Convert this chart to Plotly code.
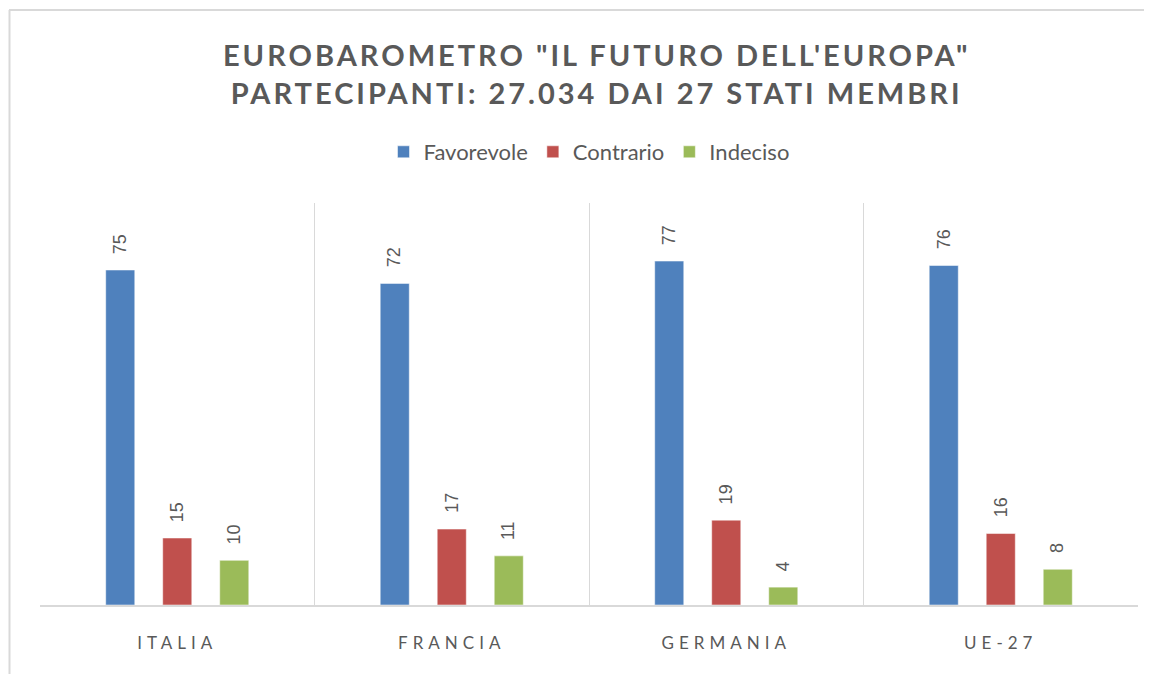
import plotly.graph_objects as go

categories = ["ITALIA", "FRANCIA", "GERMANIA", "UE-27"]
favorevole = [75, 72, 77, 76]
contrario = [15, 17, 19, 16]
indeciso = [10, 11, 4, 8]
series_names = ["Favorevole", "Contrario", "Indeciso"]
colors = ["#4F81BD", "#C0504D", "#9BBB59"]
title_lines = ["EUROBAROMETRO \"IL FUTURO DELL'EUROPA\"",
               "PARTECIPANTI: 27.034 DAI 27 STATI MEMBRI"]

TXT = "#595959"
NARROW = "Lato"
FONT = "Liberation Sans, Lato"

W, H = 1144, 666  # page body has an 8px margin
L, R, T, B = 32, 14, 195, 69
PW, PH = W - L - R, H - T - B

fig = go.Figure()
series = [favorevole, contrario, indeciso]
for name, vals, col in zip(series_names, series, colors):
    fig.add_trace(go.Bar(
        name=name, x=categories, y=vals,
        marker=dict(color=col, line=dict(color="rgba(255,255,255,0.5)", width=1)),
    ))

offsets = [-57, 0, 57]
for vals, dx in zip(series, offsets):
    for c, v in zip(categories, vals):
        fig.add_annotation(
            x=c, y=v, xref="x", yref="y", text=str(v), showarrow=False,
            textangle=-90, xshift=dx, yshift=14, yanchor="bottom", xanchor="center",
            font=dict(family=FONT, size=18, color=TXT),
        )

tick_text = [f'<span style="letter-spacing:5px">{c}</span>' for c in categories]

def px_x(p):
    return (p - 8 - L) / PW

def px_y(p):
    return (H - B - (p - 8)) / PH

fig.update_layout(
    width=W, height=H,
    margin=dict(l=L, r=R, t=T, b=B),
    paper_bgcolor="white", plot_bgcolor="white",
    barmode="group", bargap=0.377, bargroupgap=0.49,
    showlegend=True,
    legend=dict(orientation="h", x=0.5, xanchor="center", y=px_y(152), yanchor="middle",
                font=dict(family=NARROW, size=22, color=TXT), itemwidth=30,
                traceorder="normal"),
    title=dict(
        text='<span style="letter-spacing:3px">' + title_lines[0] + "</span><br>"
             '<span style="letter-spacing:3px">' + title_lines[1] + "</span>",
        x=0.507, xref="paper", xanchor="center",
        y=1 - (66 - 8) / H, yref="container", yanchor="middle",
        font=dict(family=NARROW, size=29, color=TXT, weight="bold"),
    ),
    xaxis=dict(
        type="category", tickson="boundaries", showgrid=True, gridcolor="#d9d9d9",
        gridwidth=1, ticks="", showline=True, linecolor="#d9d9d9", linewidth=2,
        tickvals=categories, ticktext=tick_text,
        tickfont=dict(family=NARROW, size=17, color=TXT),
        ticklabelstandoff=22,
    ),
    yaxis=dict(range=[0, 90], visible=False, showgrid=False, zeroline=False),
    shapes=[
        dict(type="line", xref="paper", yref="paper",
             x0=px_x(9), x1=px_x(1200), y0=px_y(10), y1=px_y(10),
             line=dict(color="#d9d9d9", width=2)),
        dict(type="line", xref="paper", yref="paper",
             x0=px_x(9.5), x1=px_x(9.5), y0=px_y(10), y1=px_y(700),
             line=dict(color="#d9d9d9", width=2)),
    ],
)

fig.write_html("out.html")
